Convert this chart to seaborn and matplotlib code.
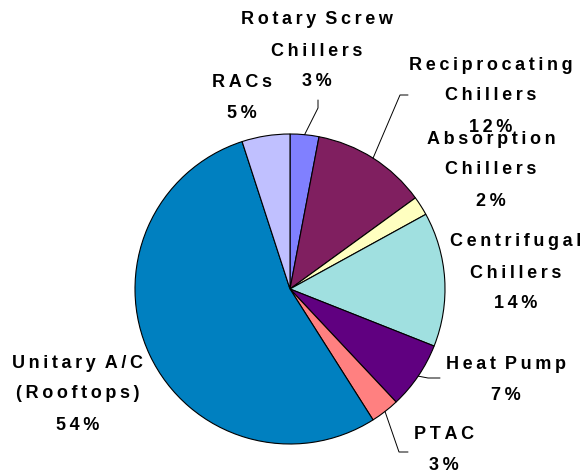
import numpy as np
import seaborn as sns
import matplotlib.pyplot as plt

# Shares of cooling equipment (percent), clockwise from 12 o'clock
categories = ['Rotary Screw\nChillers', 'Reciprocating\nChillers', 'Absorption\nChillers',
              'Centrifugal\nChillers', 'Heat Pump', 'PTAC',
              'Unitary A/C\n(Rooftops)', 'RACs']
shares = [3, 12, 2, 14, 7, 3, 54, 5]

colors = ['#8080FF', '#801F60', '#FFFFC0', '#A0E0E0',
          '#600080', '#FF8080', '#0080C0', '#C0C0FF']

sns.set_theme(style='white')
FONT = ['Liberation Sans', 'DejaVu Sans']

# pie geometry in pixels
W, H = 582, 474
CX, CY, R = 290, 289, 155
PITCH = 31      # line pitch of the labels, px
CAP = 13        # cap height, px

# label centres (px) and leader elbows (px)
label_pos = [(317, 49), (491, 94), (491, 168), (516, 271),
             (506, 378), (444, 448), (78, 392), (242, 96)]
leaders = {0: [(318, 108), (318, 100)],
           1: [(400, 95), (408, 95)],
           4: [(428, 378), (440, 378)],
           5: [(399, 452), (408, 452)]}


def px(x, y):
    return (x - CX) / R, (CY - y) / R


def spaced(line):
    # imitate the wide letter spacing of the original
    return '\u2002'.join('\u2009'.join(w) for w in line.split(' '))


fig = plt.figure(figsize=(W / 100, H / 100), dpi=100)
ax = fig.add_axes([0, 0, 1, 1])

wedges, _ = ax.pie(shares, colors=colors, startangle=90, counterclock=False,
                   radius=1, wedgeprops=dict(edgecolor='black', linewidth=0.8))

ax.set_aspect('auto')
ax.set_xlim(-CX / R, (W - CX) / R)
ax.set_ylim(-(H - CY) / R, CY / R)
ax.axis('off')

for i, (cat, val) in enumerate(zip(categories, shares)):
    lines = f'{cat}\n{val}%'.split('\n')
    lx, ly = label_pos[i]
    for k, line in enumerate(lines):
        yk = ly + (k - (len(lines) - 1) / 2) * PITCH + CAP / 2
        x, y = px(lx, yk)
        ax.text(x, y, spaced(line), ha='center', va='baseline',
                fontsize=13, fontweight='bold', family=FONT, color='black')

for i, pts in leaders.items():
    w = wedges[i]
    mid = np.deg2rad((w.theta1 + w.theta2) / 2)
    xs = [np.cos(mid)] + [px(*p)[0] for p in pts]
    ys = [np.sin(mid)] + [px(*p)[1] for p in pts]
    ax.plot(xs, ys, color='black', lw=0.7)

plt.savefig('out.png', dpi=100)
